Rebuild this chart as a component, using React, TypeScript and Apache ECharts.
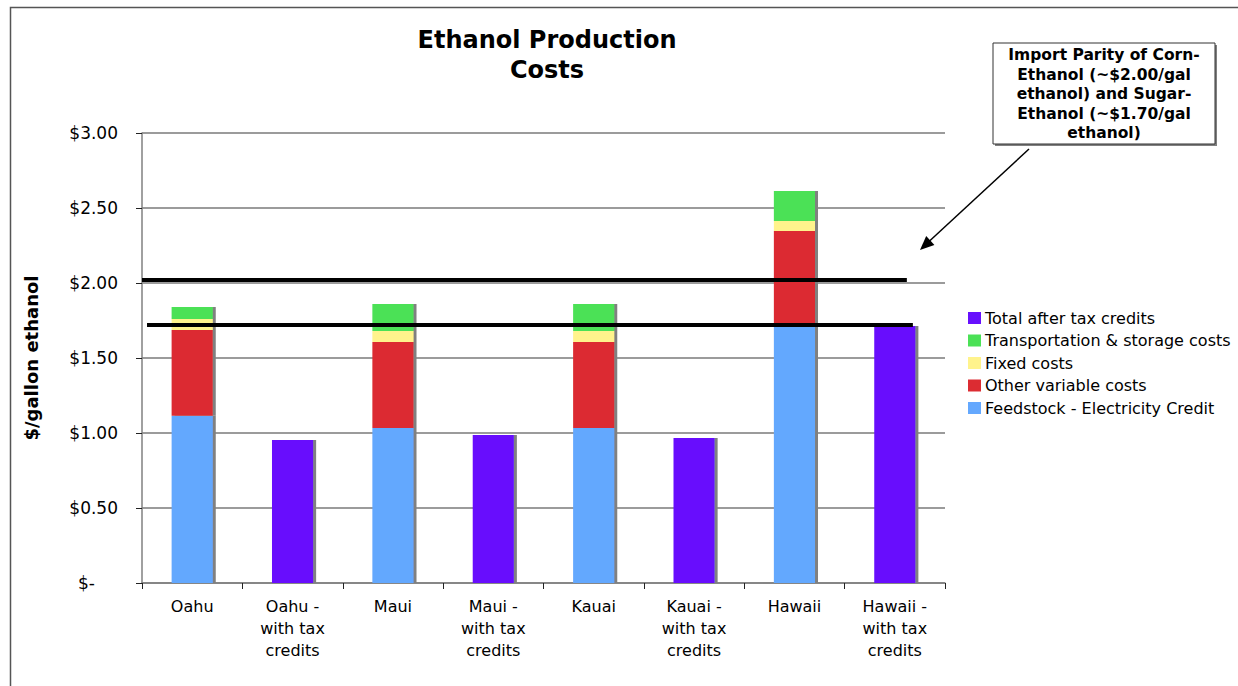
import React, { useEffect, useRef } from 'react';
import * as echarts from 'echarts';

const categories = [
  'Oahu',
  'Oahu -\nwith tax\ncredits',
  'Maui',
  'Maui -\nwith tax\ncredits',
  'Kauai',
  'Kauai -\nwith tax\ncredits',
  'Hawaii',
  'Hawaii -\nwith tax\ncredits',
];

const feedstock = [1.115, null, 1.033, null, 1.033, null, 1.71, null];
const otherVariable = [0.572, null, 0.574, null, 0.574, null, 0.637, null];
const fixedCosts = [0.073, null, 0.073, null, 0.073, null, 0.066, null];
const transport = [0.08, null, 0.18, null, 0.18, null, 0.2, null];
const totalAfterTax = [null, 0.953, null, 0.987, null, 0.967, null, 1.713];

const cornParity = [[-0.5, 2.02], [7.12, 2.02]];
const sugarParity = [[-0.45, 1.72], [7.18, 1.72]];

const yTicks = { min: 0, max: 3, interval: 0.5 };

const legendOrder = [
  'Total after tax credits',
  'Transportation & storage costs',
  'Fixed costs',
  'Other variable costs',
  'Feedstock - Electricity Credit',
];

const FONT = 'DejaVu Sans, Verdana, sans-serif';

function barSeries(name: string, data: (number | null)[], color: string) {
  return {
    name,
    type: 'bar',
    stack: 'cost',
    barWidth: '41%',
    data,
    itemStyle: {
      color,
      shadowColor: '#808080',
      shadowOffsetX: 3,
      shadowOffsetY: 0,
      shadowBlur: 0,
    },
  };
}

export default function App() {
  const ref = useRef<HTMLDivElement>(null);
  useEffect(() => {
    const chart = echarts.init(ref.current!, null, { renderer: 'svg' });
    const option: any = {
      animation: false,
      backgroundColor: '#ffffff',
      textStyle: { fontFamily: FONT },
      grid: { left: 142, right: 293, top: 133, bottom: 103, containLabel: false },
      legend: {
        orient: 'vertical',
        left: 963,
        top: 305,
        itemWidth: 13,
        itemHeight: 12,
        itemGap: 6.5,
        icon: 'rect',
        data: legendOrder,
        textStyle: { fontSize: 16, color: '#000', fontFamily: FONT, lineHeight: 16, padding: [0, 0, 0, -1] },
      },
      xAxis: [
        {
          type: 'category',
          data: categories,
          axisLine: { onZero: false, lineStyle: { color: '#808080', width: 1.5 } },
          axisTick: { show: true, length: 6, lineStyle: { color: '#222' } },
          axisLabel: { color: '#000', fontSize: 16, lineHeight: 22, margin: 12, interval: 0, fontFamily: FONT },
          splitLine: { show: false },
        },
        {
          type: 'value',
          min: -0.5,
          max: 7.5,
          show: false,
        },
      ],
      yAxis: {
        type: 'value',
        min: yTicks.min,
        max: yTicks.max,
        interval: yTicks.interval,
        name: '$/gallon ethanol',
        nameLocation: 'middle',
        nameGap: 102,
        nameRotate: 90,
        nameTextStyle: { fontSize: 18, fontWeight: 'bold', color: '#000', fontFamily: FONT },
        axisLine: { show: true, onZero: false, lineStyle: { color: '#808080', width: 1.5 } },
        axisTick: { show: true, length: 6, lineStyle: { color: '#222' } },
        splitLine: { show: true, lineStyle: { color: '#7a7a7a', width: 1.5 } },
        axisLabel: {
          color: '#000',
          fontSize: 17,
          margin: 24,
          fontFamily: FONT,
          formatter: (v: number) => (v === 0 ? '{z|$-}' : '$' + v.toFixed(2)),
          rich: { z: { padding: [0, 23, 0, 0], fontSize: 17, color: '#000', fontFamily: FONT } },
        },
      },
      series: [
        barSeries('Feedstock - Electricity Credit', feedstock, '#64A8FE'),
        barSeries('Other variable costs', otherVariable, '#DC2C32'),
        barSeries('Fixed costs', fixedCosts, '#FFF38C'),
        barSeries('Transportation & storage costs', transport, '#4BE156'),
        barSeries('Total after tax credits', totalAfterTax, '#6710FD'),
        {
          name: 'corn parity',
          type: 'line',
          xAxisIndex: 1,
          yAxisIndex: 0,
          data: cornParity,
          symbol: 'none',
          z: 5,
          lineStyle: { color: '#000', width: 4 },
          silent: true,
        },
        {
          name: 'sugar parity',
          type: 'line',
          xAxisIndex: 1,
          yAxisIndex: 0,
          data: sugarParity,
          symbol: 'none',
          z: 5,
          lineStyle: { color: '#000', width: 4 },
          silent: true,
        },
      ],
      graphic: [
        {
          type: 'rect',
          left: 8,
          top: 5,
          shape: { width: 1400, height: 900 },
          style: { fill: 'none', stroke: '#555', lineWidth: 1.5 },
          silent: true,
        },
        {
          type: 'text',
          x: 547,
          y: 55,
          style: {
            text: 'Ethanol Production\nCosts',
            align: 'center',
            verticalAlign: 'middle',
            font: 'bold 24px DejaVu Sans',
            lineHeight: 30,
            fill: '#000',
          },
        },
        {
          type: 'rect',
          shape: { x: 995, y: 45, width: 222, height: 101 },
          style: { fill: '#808080' },
        },
        {
          type: 'rect',
          shape: { x: 993, y: 43, width: 222, height: 101 },
          style: { fill: '#fff', stroke: '#333', lineWidth: 1 },
        },
        {
          type: 'text',
          x: 1104,
          y: 94,
          style: {
            text: 'Import Parity of Corn-\nEthanol (~$2.00/gal\nethanol) and Sugar-\nEthanol (~$1.70/gal\nethanol)',
            align: 'center',
            verticalAlign: 'middle',
            font: 'bold 15.5px DejaVu Sans',
            lineHeight: 19.5,
            fill: '#000',
          },
        },
        {
          type: 'line',
          shape: { x1: 1029, y1: 149, x2: 929, y2: 241.5 },
          style: { stroke: '#000', lineWidth: 1.5 },
        },
        {
          type: 'polygon',
          shape: { points: [[920, 250], [934.4, 244.9], [926.2, 236.1]] },
          style: { fill: '#000' },
        },
      ],
    };
    chart.setOption(option);
    return () => chart.dispose();
  }, []);
  return (
    <div
      ref={ref}
      style={{ position: 'fixed', left: 0, top: 0, width: 1238, height: 686, background: '#fff' }}
    />
  );
}
